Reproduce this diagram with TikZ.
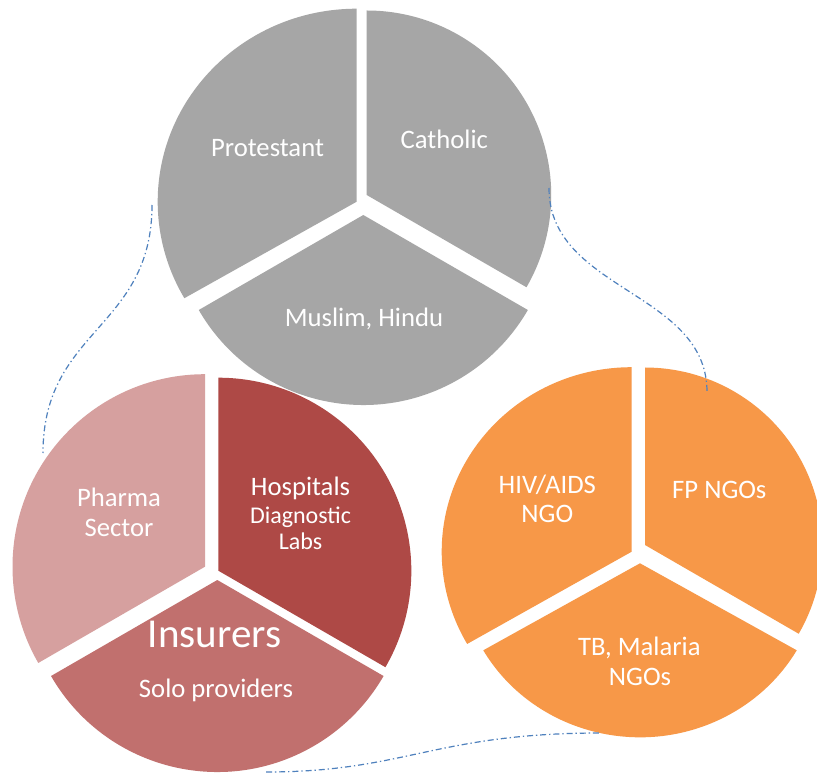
\documentclass[tikz,border=0pt]{standalone}
\usepackage{fontspec}
\setmainfont{Carlito}
\definecolor{grayslice}{RGB}{166,166,166}
\definecolor{pharmacol}{RGB}{214,160,159}
\definecolor{hospcol}{RGB}{174,73,70}
\definecolor{inscol}{RGB}{193,112,110}
\definecolor{orangecol}{RGB}{247,152,72}
\definecolor{linkcol}{RGB}{79,129,189}
\tikzset{
  lbl/.style={text=white, anchor=base, inner sep=0pt, font=\fontsize{20}{24}\selectfont},
  lblsmall/.style={lbl, font=\fontsize{18}{22}\selectfont},
  lblbig/.style={lbl, font=\fontsize{30.8}{36}\selectfont},
  link/.style={draw=linkcol, line width=0.9pt, dash pattern=on 4.5pt off 2.2pt on 1pt off 2.2pt}
}
% slice: tip x, tip y, start angle, end angle, x radius, y radius, colour
\newcommand{\pieslice}[7]{\fill[#7] (#1,#2) -- ++(#3:{#5} and {#6}) arc[start angle=#3, end angle=#4, x radius=#5, y radius=#6] -- cycle;}
\begin{document}
\begin{tikzpicture}[x=0.75pt,y=0.75pt]
\clip (0,0) rectangle (817,-773);
\fill[white] (0,0) rectangle (817,-773);
% gray pie
\pieslice{356.7}{-201.7}{90}{210}{199}{193}{grayslice}
\pieslice{366.7}{-195}{-30}{90}{184.5}{184.5}{grayslice}
\pieslice{363.3}{-215}{210}{330}{190}{190}{grayslice}
% red pie
\pieslice{205}{-566.7}{90}{210}{192.5}{192.5}{pharmacol}
\pieslice{218.3}{-570.7}{-30}{90}{193}{193}{hospcol}
\pieslice{217.3}{-580}{210}{330}{192}{192}{inscol}
% orange pie
\pieslice{631.7}{-551.7}{90}{210}{190}{184.5}{orangecol}
\pieslice{645}{-545}{-30}{90}{177.5}{177.5}{orangecol}
\pieslice{640}{-563.3}{210}{330}{181}{174}{orangecol}
% labels
\node[lbl] (prot) at (267.5,-156.7) {Protestant};
\node[lbl] (cath) at (444.3,-148.3) {Catholic};
\node[lbl] (musl) at (364,-326.7) {Muslim, Hindu};
\node[lbl] (pharma) at (119,-506) {Pharma};
\node[lbl] (sector) at (119,-536.7) {Sector};
\node[lbl] (hosp) at (300.5,-495) {Hospitals};
\node[lblsmall] (diag) at (300.5,-523.3) {Diagnostic};
\node[lblsmall] (labs) at (300.5,-549.3) {Labs};
\node[lblbig] (insur) at (214.7,-647.3) {Insurers};
\node[lbl] (solo) at (216,-697.3) {Solo providers};
\node[lbl] (hiv) at (547.3,-493.3) {HIV/AIDS};
\node[lbl] (ngo) at (547.3,-522.3) {NGO};
\node[lbl] (fp) at (719.3,-498.3) {FP NGOs};
\node[lbl] (tb) at (639.3,-655) {TB, Malaria};
\node[lbl] (ngos) at (640,-685) {NGOs};
% connector end points
\coordinate (g1) at (152,-205);
\coordinate (r1) at (43,-453);
\coordinate (g2) at (549,-188);
\coordinate (o2) at (707,-392);
\coordinate (r3) at (266,-772);
\coordinate (o3) at (601,-733);
\draw[link] (g1) .. controls (152,-329) and (43,-329) .. (r1);
\draw[link] (g2) .. controls (549,-291) and (707,-291) .. (o2);
\draw[link] (r3) .. controls (405,-772) and (435,-733) .. (o3);
\end{tikzpicture}
\end{document}
